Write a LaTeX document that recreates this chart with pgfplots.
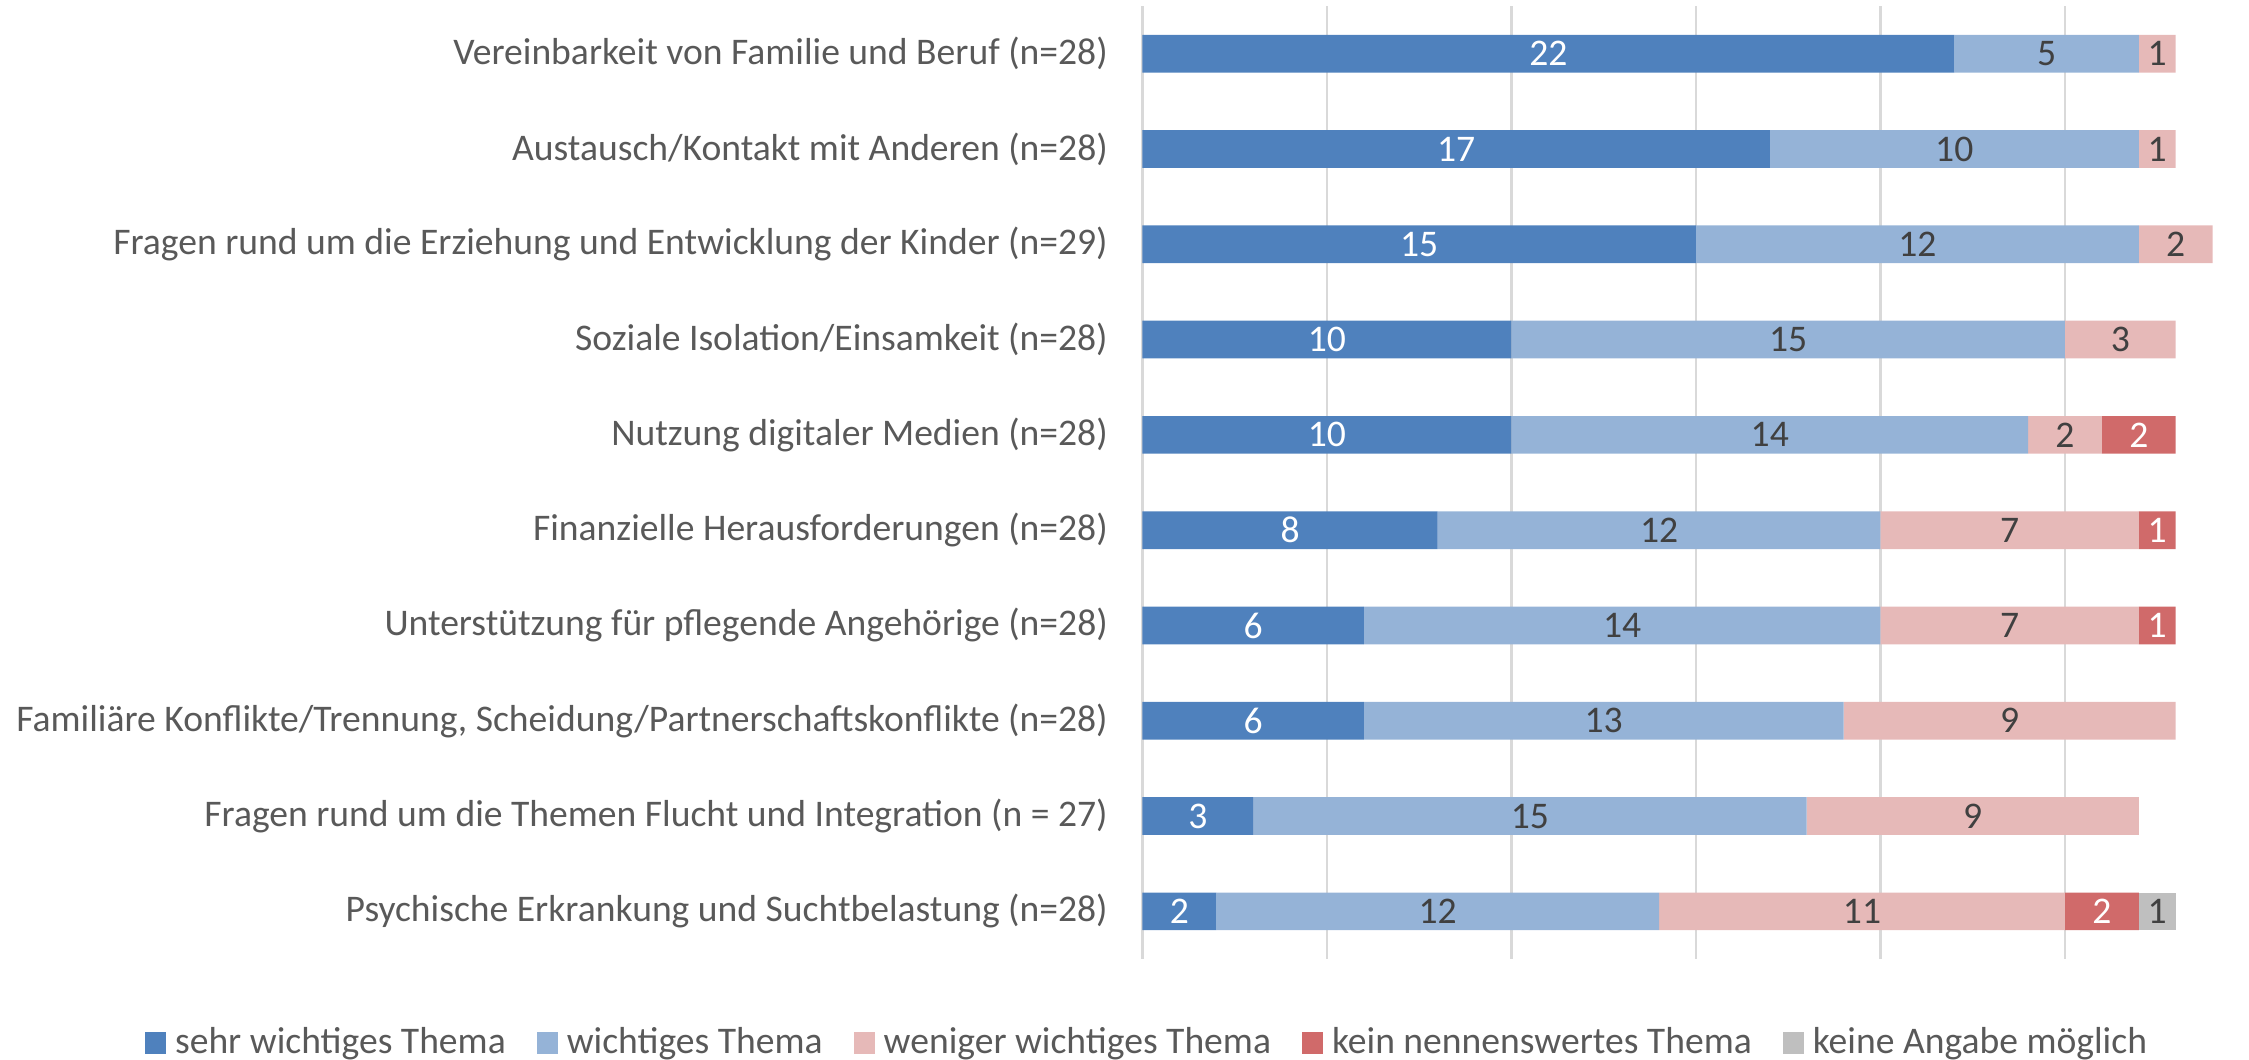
\documentclass[border=0pt]{standalone}
\usepackage{pgfplots}
\pgfplotsset{compat=1.18}
\usepackage{pgfplotstable}
\usepackage{fontspec}
\setmainfont{Carlito}
\definecolor{c1}{HTML}{4F81BD}
\definecolor{c2}{HTML}{95B3D7}
\definecolor{c3}{HTML}{E6B9B8}
\definecolor{c4}{HTML}{D06A6A}
\definecolor{c5}{HTML}{BFBFBF}
\definecolor{txt}{HTML}{595959}
\definecolor{dtxt}{HTML}{404040}
\definecolor{gridc}{HTML}{D9D9D9}
\pgfplotstableread{
idx s1 s2 s3 s4 s5
0 22 5 1 0 0
1 17 10 1 0 0
2 15 12 2 0 0
3 10 15 3 0 0
4 10 14 2 2 0
5 8 12 7 1 0
6 6 14 7 1 0
7 6 13 9 0 0
8 3 15 9 0 0
9 2 12 11 2 1
}\data
\newcommand{\lblfont}{\fontsize{10.7}{12.8}\selectfont}
\begin{document}
\begin{tikzpicture}
\useasboundingbox (-11.425cm,-1.01cm) rectangle (11.065cm,9.59cm);
\begin{axis}[
  scale only axis, width=11.07cm, height=9.53cm,
  xbar stacked, bar width=0.377cm,
  xmin=0, xmax=30, ymin=-0.5, ymax=9.5, y dir=reverse,
  xtick={0,5,...,25}, xticklabels={},
  xmajorgrids, grid style={draw=gridc, line width=0.6pt},
  ytick={0,...,9},
  yticklabels={
    {Vereinbarkeit von Familie und Beruf (n=28)},
    {Austausch/Kontakt mit Anderen (n=28)},
    {Fragen rund um die Erziehung und Entwicklung der Kinder (n=29)},
    {Soziale Isolation/Einsamkeit (n=28)},
    {Nutzung digitaler Medien (n=28)},
    {Finanzielle Herausforderungen (n=28)},
    {Unterstützung für pflegende Angehörige (n=28)},
    {Familiäre Konflikte/Trennung, Scheidung/Partnerschaftskonflikte (n=28)},
    {Fragen rund um die Themen Flucht und Integration (n = 27)},
    {Psychische Erkrankung und Suchtbelastung (n=28)}},
  axis line style={draw=none}, major tick length=0pt,
  yticklabel style={font=\lblfont, text=txt, inner sep=0pt, xshift=-0.34cm},
  /pgf/number format/assume math mode=true,
  visualization depends on={rawx \as \segval},
  nodes near coords={\ifdim\segval pt>0pt\pgfmathprintnumber{\segval}\fi},
  every node near coord/.append style={anchor=center, font=\lblfont, text=dtxt, inner sep=0pt},
  legend columns=-1,
  legend style={at={(-0.901,-0.0881)}, anchor=west, draw=none, fill=none, inner sep=0pt, outer sep=0pt,
    font=\lblfont, text=txt, nodes={inner sep=0pt},
    /tikz/every odd column/.append style={column sep=0.09cm},
    /tikz/every even column/.append style={column sep=0.31cm}},
  legend image code/.code={\fill[#1] (0cm,-0.107cm) rectangle (0.21cm,0.107cm);},
]
\addplot[fill=c1, draw=none, every node near coord/.append style={text=white}] table[x=s1, y=idx]{\data};
\addplot[fill=c2, draw=none] table[x=s2, y=idx]{\data};
\addplot[fill=c3, draw=none] table[x=s3, y=idx]{\data};
\addplot[fill=c4, draw=none, every node near coord/.append style={text=white}] table[x=s4, y=idx]{\data};
\addplot[fill=c5, draw=none] table[x=s5, y=idx]{\data};
\legend{sehr wichtiges Thema, wichtiges Thema, weniger wichtiges Thema, kein nennenswertes Thema, keine Angabe möglich}
\end{axis}
\end{tikzpicture}
\end{document}
